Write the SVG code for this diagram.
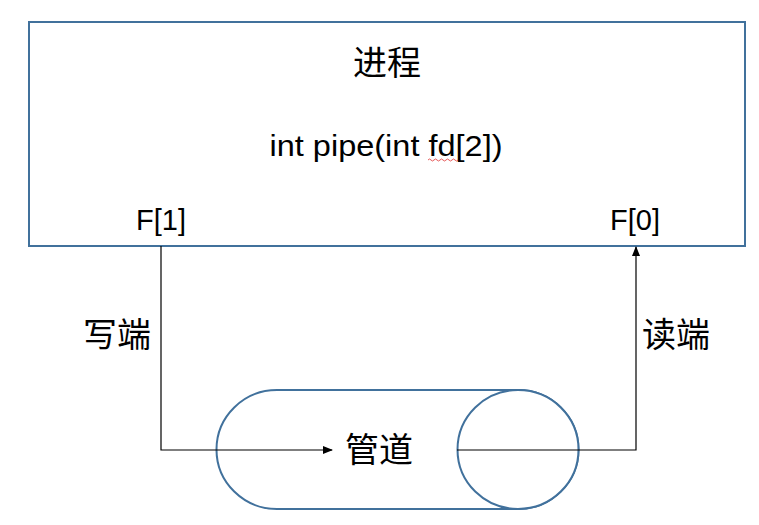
<svg xmlns="http://www.w3.org/2000/svg" width="759" height="525" viewBox="0 0 759 525">
<style>
.shape{fill:#fff;stroke:#41719C;stroke-width:2}
.conn{fill:none;stroke:#000;stroke-width:1.2}
.t{font-family:"Liberation Sans","Noto Sans CJK SC",sans-serif;fill:#000}
.cjk{font-family:"Noto Sans CJK SC",sans-serif;fill:#000;font-size:34px}
</style>
<defs>
<marker id="arr" markerWidth="10" markerHeight="10" refX="9" refY="5" orient="auto" markerUnits="userSpaceOnUse">
<path d="M0,1 L10,5 L0,9 Z" fill="#000"/>
</marker>
</defs>
<g id="process">
<rect class="shape" x="29" y="22" width="716" height="224"/>
<text class="cjk" x="387" y="75" text-anchor="middle">进程</text>
<text class="t" x="386" y="156" font-size="30" text-anchor="middle" textLength="233" lengthAdjust="spacingAndGlyphs">int pipe(int fd[2])</text>
<path d="M428,160 q1.5,-2 3,0 t3,0 t3,0 t3,0 t3,0 t3,0 t3,0 t3,0 t3,0 t3,0" fill="none" stroke="#e03030" stroke-width="0.8"/>
<text class="t" x="161" y="230" font-size="29" text-anchor="middle">F[1]</text>
<text class="t" x="635" y="230" font-size="29" text-anchor="middle">F[0]</text>
</g>
<g id="pipe">
<path class="shape" d="M277,390 L518,390 A60.5,59.5 0 0 1 518,509 L277,509 A60.5,59.5 0 0 1 277,390 Z"/>
<ellipse class="shape" cx="518" cy="449.5" rx="60.5" ry="59.5"/>
<text class="cjk" x="379" y="462" text-anchor="middle">管道</text>
</g>
<g id="connectors">
<path class="conn" d="M161,246 L161,450 L332,450" marker-end="url(#arr)"/>
<path class="conn" d="M457,450 L636,450 L636,247" marker-end="url(#arr)"/>
<text class="cjk" x="117" y="347" text-anchor="middle">写端</text>
<text class="cjk" x="676" y="347" text-anchor="middle">读端</text>
</g>
</svg>
